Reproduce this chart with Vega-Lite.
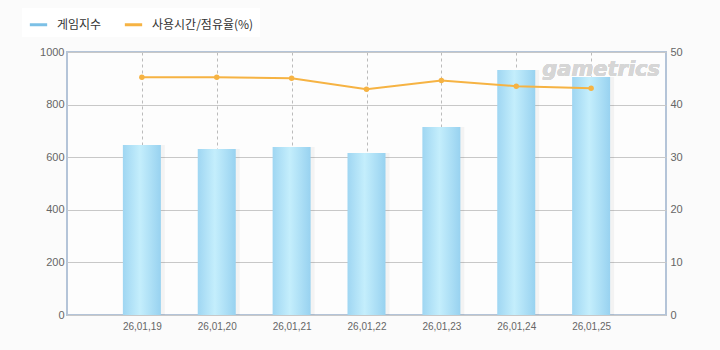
{
  "$schema": "https://vega.github.io/schema/vega-lite/v6.json",
  "autosize": "none",
  "width": 599,
  "height": 263,
  "padding": {"left": 67, "top": 52, "right": 54, "bottom": 35},
  "background": "#fbfbfb",
  "config": {
    "view": {"fill": "#fdfdfd", "stroke": "#b4c4d8", "strokeWidth": 2},
    "font": "Liberation Sans",
    "axis": {"labelColor": "#666666", "labelFont": "Liberation Sans", "labelFontSize": 11, "ticks": false, "domain": false, "title": null}
  },
  "data": {
    "values": [
      {"date": "26,01,19", "index": 646, "share": 45.2},
      {"date": "26,01,20", "index": 631, "share": 45.2},
      {"date": "26,01,21", "index": 639, "share": 45.0},
      {"date": "26,01,22", "index": 616, "share": 42.9},
      {"date": "26,01,23", "index": 715, "share": 44.6},
      {"date": "26,01,24", "index": 932, "share": 43.5},
      {"date": "26,01,25", "index": 905, "share": 43.1}
    ]
  },
  "encoding": {
    "x": {
      "field": "date", "type": "ordinal", "sort": null,
      "scale": {"type": "point", "padding": 1},
      "axis": {"labelAngle": 0, "labelPadding": 6, "labelFontSize": 10, "grid": true, "gridDash": [3, 3], "gridColor": "#bbbbbb"}
    }
  },
  "layer": [
    {
      "mark": {"type": "bar", "width": 38, "xOffset": 4, "color": "#000000", "opacity": 0.04},
      "encoding": {
        "y": {"field": "index", "type": "quantitative", "scale": {"domain": [0, 1000]},
          "axis": {"orient": "left", "values": [0, 200, 400, 600, 800, 1000], "format": "d", "labelPadding": 3, "gridColor": "#c8c8c8"}}
      }
    },
    {
      "mark": {"type": "bar", "width": 38,
        "color": {"gradient": "linear", "x1": 0, "x2": 1, "y1": 0, "y2": 0,
          "stops": [{"offset": 0, "color": "#9fd6f2"}, {"offset": 0.45, "color": "#c4eefc"}, {"offset": 1, "color": "#98d2f0"}]}},
      "encoding": {
        "y": {"field": "index", "type": "quantitative", "scale": {"domain": [0, 1000]}, "axis": null}
      }
    },
    {
      "mark": {"type": "text", "text": "gametrics", "font": "DejaVu Sans", "fontStyle": "italic", "fontWeight": "bold", "fontSize": 21, "color": "#d6d6d6", "dx": 10},
      "encoding": {
        "x": {"datum": "26,01,25"},
        "y": {"datum": 930, "type": "quantitative", "scale": {"domain": [0, 1000]}, "axis": null}
      }
    },
    {
      "mark": {"type": "line", "strokeWidth": 2, "point": {"filled": true, "size": 30}},
      "encoding": {
        "y": {"field": "share", "type": "quantitative", "scale": {"domain": [0, 50]},
          "axis": {"orient": "right", "values": [0, 10, 20, 30, 40, 50], "grid": false, "labelPadding": 4}},
        "color": {"datum": "사용시간/점유율(%)", "type": "nominal",
          "scale": {"domain": ["게임지수", "사용시간/점유율(%)"], "range": ["#7cc0e6", "#f6b343"]},
          "legend": {"orient": "none", "legendX": -45, "legendY": -44, "direction": "horizontal", "title": null,
            "symbolType": "stroke", "symbolStrokeWidth": 3, "symbolSize": 300, "labelFont": "Noto Sans CJK KR",
            "labelFontSize": 12, "labelColor": "#333333", "labelOffset": 8, "fillColor": "#ffffff", "padding": 6, "columnPadding": 16}}
      }
    }
  ],
  "resolve": {"scale": {"y": "independent", "color": "independent"}}
}
